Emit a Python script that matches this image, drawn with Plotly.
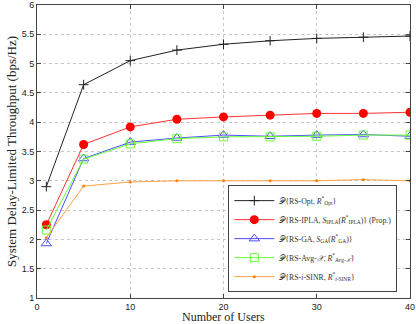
import plotly.graph_objects as go

# Number of users
users = [1, 5, 10, 15, 20, 25, 30, 35, 40]

# Throughput series (bps/Hz)
opt = [2.90, 4.64, 5.05, 5.23, 5.33, 5.39, 5.43, 5.45, 5.47]
ipla = [2.25, 3.62, 3.92, 4.05, 4.09, 4.12, 4.15, 4.15, 4.17]
ga = [1.93, 3.38, 3.66, 3.73, 3.78, 3.76, 3.78, 3.79, 3.76]
avg_x = [2.16, 3.37, 3.63, 3.72, 3.75, 3.75, 3.76, 3.78, 3.78]
i_sinr = [2.03, 2.91, 2.98, 3.00, 3.00, 3.00, 3.00, 3.02, 3.00]

x_ticks = [0, 10, 20, 30, 40]
y_ticks = [1, 1.5, 2, 2.5, 3, 3.5, 4, 4.5, 5, 5.5, 6]

SERIF = "Liberation Serif, DejaVu Serif, serif"
SANS = "Liberation Sans, Arial, sans-serif"

series = [
    (opt, "𝒫{RS-Opt, <i>R</i><sup>*</sup><sub>Opt</sub>}",
     dict(color="#222222", width=1),
     dict(symbol="cross-thin", size=7, line=dict(color="#222222", width=1))),
    (ipla, "𝒫{RS-IPLA, <i>S</i><sub>IPLA</sub>(<i>R</i><sup>*</sup><sub>IPLA</sub>)} (Prop.)",
     dict(color="#ff3333", width=1),
     dict(symbol="circle", size=9, color="#ff0000")),
    (ga, "𝒫{RS-GA, <i>S</i><sub>GA</sub>(<i>R</i><sup>*</sup><sub>GA</sub>)}",
     dict(color="#4d4dff", width=1),
     dict(symbol="triangle-up-open", size=9, line=dict(color="#3333ff", width=1))),
    (avg_x, "𝒫{RS-Avg-<i>𝒳</i>, <i>R</i><sup>*</sup><sub>Avg-𝒳</sub>}",
     dict(color="#66ff33", width=1),
     dict(symbol="square-open", size=8, line=dict(color="#55ee22", width=1))),
    (i_sinr, "𝒫{RS-<i>i</i>-SINR, <i>R</i><sup>*</sup><sub><i>i</i>-SINR</sub>}",
     dict(color="#ffa040", width=1),
     dict(symbol="circle", size=3, color="#ff8000")),
]

fig = go.Figure()
for values, name, line, marker in series:
    fig.add_trace(go.Scatter(
        x=users, y=values, name=name, mode="lines+markers",
        line=line, marker=marker,
    ))

axis_common = dict(
    showline=True, linecolor="#444444", linewidth=1, mirror="allticks",
    ticks="inside", ticklen=4, tickcolor="#444444",
    showgrid=True, gridcolor="#c8c8c8", griddash="dot", gridwidth=1,
    zeroline=False, tickfont=dict(family=SANS, size=9, color="#222222"),
    title_font=dict(family=SERIF, size=13, color="#222222"),
    automargin=False,
)

fig.update_layout(
    width=416, height=324,
    margin=dict(l=37, r=6, t=5, b=26),
    paper_bgcolor="white", plot_bgcolor="white",
    showlegend=True,
    legend=dict(
        x=0.966, y=0.02, xanchor="right", yanchor="bottom",
        bgcolor="white", bordercolor="#444444", borderwidth=1,
        font=dict(family=SERIF, size=7.8, color="#333333"),
        tracegroupgap=0, itemwidth=40,
    ),
    # x title as an annotation so it clears the tick labels
    annotations=[dict(
        text="Number of Users", xref="paper", yref="paper", x=0.5, y=0,
        xanchor="center", yanchor="top", yshift=-11, showarrow=False,
        borderpad=0, font=dict(family=SERIF, size=12, color="#222222"),
    )],
)
fig.update_xaxes(range=[0, 40], tickvals=x_ticks, **axis_common)
fig.update_yaxes(range=[1, 6], tickvals=y_ticks, title_text="System Delay-Limited Throughput (bps/Hz)",
                 title_standoff=2, **axis_common)

# drop the default page margin so the figure sits at the window's corner
fig.write_html("out.html", config={"displayModeBar": False},
               post_script="document.body.style.margin='0';")
